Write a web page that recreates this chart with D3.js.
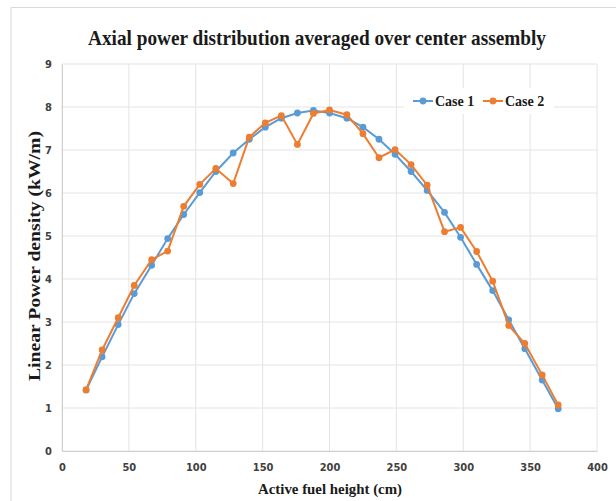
<!DOCTYPE html>
<html>
<head>
<meta charset="utf-8">
<script src="https://cdn.jsdelivr.net/npm/d3@7"></script>
<style>
  body { margin: 0; background: #fff; }
  .tick text { font-family: "Liberation Sans Narrow", "DejaVu Sans Condensed", sans-serif; font-weight: bold; font-size: 11px; fill: #404040; }
</style>
</head>
<body>
<div id="chart"></div>
<script>
// fuel height positions (cm)
const heights = [18, 30, 42, 54, 67, 79, 91, 103, 115, 128, 140, 152, 164, 176, 188,
                 200, 213, 225, 237, 249, 261, 273, 286, 298, 310, 322, 334, 346, 359, 371];
// linear power density (kW/m)
const case1 = [1.42, 2.19, 2.94, 3.66, 4.32, 4.94, 5.50, 6.01, 6.50, 6.93, 7.25, 7.53, 7.74, 7.86, 7.92,
               7.86, 7.74, 7.53, 7.25, 6.90, 6.50, 6.06, 5.55, 4.97, 4.34, 3.73, 3.05, 2.38, 1.65, 0.98];
const case2 = [1.42, 2.35, 3.10, 3.85, 4.45, 4.65, 5.69, 6.20, 6.57, 6.22, 7.30, 7.63, 7.80, 7.13, 7.85,
               7.93, 7.82, 7.38, 6.82, 7.01, 6.66, 6.18, 5.10, 5.20, 4.64, 3.95, 2.92, 2.50, 1.77, 1.07];
const xTicks = [0, 50, 100, 150, 200, 250, 300, 350, 400];
const yTicks = [0, 1, 2, 3, 4, 5, 6, 7, 8, 9];

const series = [
  { name: "Case 1", values: case1, color: "#5b9bd5" },
  { name: "Case 2", values: case2, color: "#ed7d31" }
];

const W = 616, H = 501;
const margin = { top: 64, right: 19, bottom: 50, left: 62 };
const width = W - margin.left - margin.right;
const height = H - margin.top - margin.bottom;
const serif = "'Liberation Serif', 'Times New Roman', serif";

const svg = d3.select("#chart").append("svg")
    .attr("width", W)
    .attr("height", H);

// outer frame (top and left edges visible)
svg.append("path")
    .attr("d", `M11,${H} L11,7.5 L${W},7.5`)
    .attr("fill", "none")
    .attr("stroke", "#d9d9d9");

const g = svg.append("g")
    .attr("transform", `translate(${margin.left},${margin.top})`);

const x = d3.scaleLinear().domain([0, 400]).range([0, width]);
const y = d3.scaleLinear().domain([0, 9]).range([height, 0]);

// gridlines
g.append("g")
    .selectAll("line")
    .data(xTicks)
    .join("line")
    .attr("x1", d => x(d)).attr("x2", d => x(d))
    .attr("y1", 0).attr("y2", height)
    .attr("stroke", "#e4e4e4");

g.append("g")
    .selectAll("line")
    .data(yTicks)
    .join("line")
    .attr("x1", 0).attr("x2", width)
    .attr("y1", d => y(d)).attr("y2", d => y(d))
    .attr("stroke", "#e4e4e4");

// axes
const xAxis = g.append("g")
    .attr("transform", `translate(0,${height})`)
    .call(d3.axisBottom(x).tickValues(xTicks).tickSize(0).tickPadding(12));
xAxis.select(".domain").attr("stroke", "#d0d0d0");

const yAxis = g.append("g")
    .call(d3.axisLeft(y).tickValues(yTicks).tickSize(0).tickPadding(10));
yAxis.select(".domain").attr("stroke", "#d0d0d0");

// lines + markers
const line = d3.line()
    .x((d, i) => x(heights[i]))
    .y(d => y(d));

series.forEach(s => {
  g.append("path")
      .datum(s.values)
      .attr("fill", "none")
      .attr("stroke", s.color)
      .attr("stroke-width", 2)
      .attr("d", line);

  g.selectAll(null)
      .data(s.values)
      .join("circle")
      .attr("cx", (d, i) => x(heights[i]))
      .attr("cy", d => y(d))
      .attr("r", 3.4)
      .attr("fill", s.color);
});

// title
svg.append("text")
    .attr("x", 88)
    .attr("y", 45)
    .attr("textLength", 458)
    .attr("lengthAdjust", "spacingAndGlyphs")
    .style("font-family", serif)
    .style("font-weight", "bold")
    .style("font-size", "21px")
    .style("fill", "#1a1a1a")
    .text("Axial power distribution averaged over center assembly");

// axis titles
svg.append("text")
    .attr("x", 258)
    .attr("y", 494)
    .attr("textLength", 144)
    .attr("lengthAdjust", "spacingAndGlyphs")
    .style("font-family", serif)
    .style("font-weight", "bold")
    .style("font-size", "15px")
    .style("fill", "#1a1a1a")
    .text("Active fuel height (cm)");

svg.append("text")
    .attr("transform", "translate(40,381) rotate(-90)")
    .attr("textLength", 250)
    .attr("lengthAdjust", "spacingAndGlyphs")
    .style("font-family", serif)
    .style("font-weight", "bold")
    .style("font-size", "17px")
    .style("fill", "#1a1a1a")
    .text("Linear Power density (kW/m)");

// legend
const legend = svg.append("g").attr("transform", "translate(404,88)");
legend.append("rect")
    .attr("width", 150).attr("height", 26)
    .attr("fill", "#fff");

series.forEach((s, i) => {
  const lg = legend.append("g").attr("transform", `translate(${9 + i * 70},13)`);
  lg.append("line")
      .attr("x1", 0).attr("x2", 20)
      .attr("stroke", s.color).attr("stroke-width", 2);
  lg.append("circle")
      .attr("cx", 10).attr("r", 3.4)
      .attr("fill", s.color);
  lg.append("text")
      .attr("x", 22)
      .attr("y", 5)
      .style("font-family", serif)
      .style("font-weight", "bold")
      .style("font-size", "14px")
      .style("fill", "#1a1a1a")
      .text(s.name);
});
</script>
</body>
</html>
